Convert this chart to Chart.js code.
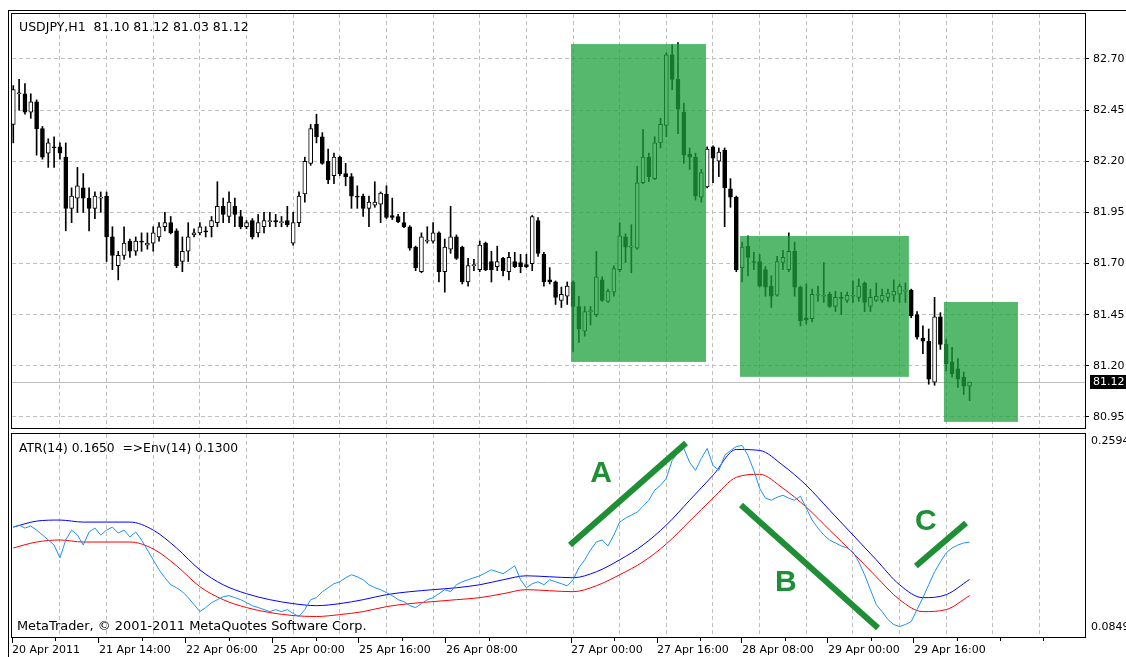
<!DOCTYPE html>
<html>
<head>
<meta charset="utf-8">
<title>USDJPY,H1</title>
<script src="https://cdn.jsdelivr.net/npm/chart.js@4.4.1/dist/chart.umd.min.js"></script>
<style>
  html, body { margin:0; padding:0; background:#fff; }
  #stage { position:relative; width:1126px; height:657px; overflow:hidden; background:#fff; }
  #stage canvas { position:absolute; left:0; }
  #priceCanvas { top:0; }
  #atrCanvas { top:431px; }
  .txt { position:absolute; font-family:"DejaVu Sans", sans-serif; line-height:15px; color:#000; white-space:pre; }
</style>
</head>
<body>
<div id="stage">
  <canvas id="priceCanvas" width="1126" height="431"></canvas>
  <canvas id="atrCanvas" width="1126" height="226"></canvas>
  <div class="txt" id="priceHeader" style="left:19px;top:19px;font-size:12.5px;"></div>
  <div class="txt" id="atrHeader" style="left:19px;top:441px;font-size:12.3px;"></div>
  <div class="txt" id="copyright" style="left:17px;top:618px;font-size:12.9px;">MetaTrader, © 2001-2011 MetaQuotes Software Corp.</div>
</div>
<script>
// ---- hourly USDJPY bars, 20 Apr 2011 .. 29 Apr 2011 ----
const opens = [
  82.38,82.53,82.53,82.44,82.49,82.36,82.24,82.27,82.27,82.22,
  81.97,82.02,82.07,82.02,81.97,82.02,82.03,81.83,81.69,81.74,
  81.81,81.76,81.81,81.79,81.80,81.83,81.88,81.90,81.86,81.71,
  81.76,81.84,81.85,81.86,81.88,81.90,81.98,81.93,81.98,81.93,
  81.88,81.91,81.85,81.88,81.905,81.91,81.90,81.91,81.80,81.90,
  82.04,82.19,82.38,82.32,82.20,82.13,82.22,82.14,82.125,82.03,
  82.03,81.97,81.985,81.99,82.04,81.935,81.93,81.90,81.88,81.78,
  81.66,81.81,81.81,81.85,81.66,81.77,81.83,81.78,81.61,81.69,
  81.67,81.80,81.71,81.685,81.725,81.66,81.71,81.705,81.695,81.70,
  81.91,81.745,81.62,81.61,81.52,81.54,81.61,81.49,81.37,81.465,
  81.45,81.62,81.515,81.56,81.67,81.83,81.78,81.775,82.095,82.22,
  82.115,82.29,82.375,82.72,82.60,82.44,82.235,82.22,82.025,82.075,
  82.27,82.20,82.255,82.065,82.025,81.68,81.785,81.71,81.71,81.67,
  81.59,81.545,81.705,81.67,81.76,81.585,81.435,81.43,81.545,81.54,
  81.55,81.49,81.535,81.52,81.54,81.535,81.605,81.49,81.52,81.52,
  81.535,81.545,81.55,81.565,81.57,81.45,81.335,81.32,81.12,81.44,
  81.305,81.22,81.185,81.145,81.10
];
const highs = [
  82.57,82.60,82.58,82.53,82.50,82.37,82.31,82.32,82.29,82.29,
  82.07,82.17,82.14,82.07,82.05,82.05,82.05,81.88,81.76,81.88,
  81.82,81.83,81.85,81.85,81.88,81.90,81.95,81.93,81.87,81.83,
  81.90,81.87,81.90,81.88,81.93,82.10,82.02,82.05,82.02,81.96,
  81.91,81.92,81.94,81.95,81.95,81.94,81.93,81.98,81.95,82.05,
  82.22,82.38,82.43,82.34,82.26,82.24,82.225,82.19,82.14,82.08,
  82.04,82.03,82.10,82.05,82.08,82.02,81.94,81.95,81.885,81.785,
  81.85,81.88,81.90,81.855,81.82,81.98,81.84,81.785,81.725,81.72,
  81.81,81.805,81.76,81.785,81.73,81.755,81.755,81.745,81.745,81.935,
  81.925,81.755,81.68,81.615,81.585,81.61,81.615,81.54,81.49,81.49,
  81.76,81.635,81.575,81.69,81.90,81.845,81.89,82.175,82.355,82.24,
  82.32,82.41,82.73,82.77,82.78,82.485,82.265,82.24,82.16,82.27,
  82.275,82.265,82.265,82.115,82.03,81.805,81.835,81.755,81.745,81.685,
  81.64,81.735,81.765,81.85,81.805,81.59,81.60,81.575,81.59,81.705,
  81.56,81.565,81.56,81.56,81.615,81.625,81.61,81.575,81.605,81.575,
  81.575,81.62,81.60,81.605,81.575,81.465,81.395,81.38,81.535,81.46,
  81.33,81.29,81.235,81.17,81.12
];
const lows = [
  82.29,82.45,82.43,82.41,82.23,82.21,82.17,82.17,82.21,81.86,
  81.90,81.95,81.95,81.86,81.92,81.95,81.71,81.67,81.62,81.72,
  81.73,81.74,81.76,81.77,81.76,81.81,81.86,81.845,81.68,81.66,
  81.71,81.83,81.84,81.83,81.83,81.88,81.90,81.90,81.88,81.87,
  81.87,81.82,81.83,81.85,81.88,81.88,81.88,81.88,81.79,81.88,
  82.00,82.18,82.29,82.185,82.09,82.09,82.13,82.08,81.97,81.97,
  81.93,81.88,81.975,81.90,81.92,81.915,81.90,81.875,81.765,81.665,
  81.655,81.80,81.80,81.61,81.56,81.75,81.72,81.60,81.59,81.665,
  81.66,81.665,81.61,81.665,81.64,81.62,81.68,81.655,81.68,81.665,
  81.735,81.59,81.60,81.50,81.485,81.50,81.27,81.315,81.345,81.40,
  81.44,81.515,81.51,81.54,81.66,81.705,81.655,81.77,82.09,82.10,
  82.11,82.265,82.32,82.55,82.335,82.19,82.16,82.01,82.00,82.07,
  82.095,82.125,81.88,81.975,81.66,81.61,81.64,81.67,81.585,81.54,
  81.485,81.54,81.67,81.66,81.54,81.395,81.405,81.415,81.515,81.51,
  81.485,81.465,81.45,81.51,81.51,81.515,81.465,81.465,81.515,81.51,
  81.515,81.515,81.51,81.51,81.435,81.33,81.26,81.11,81.105,81.28,
  81.175,81.145,81.095,81.06,81.03
];
const closes = [
  82.55,82.535,82.44,82.49,82.36,82.22,82.29,82.265,82.24,81.97,
  82.03,82.08,82.02,81.97,82.03,82.025,81.83,81.74,81.74,81.80,
  81.76,81.81,81.805,81.80,81.85,81.88,81.90,81.85,81.69,81.76,
  81.83,81.85,81.88,81.855,81.91,81.98,81.94,82.00,81.94,81.88,
  81.90,81.83,81.90,81.91,81.91,81.905,81.905,81.89,81.90,82.03,
  82.20,82.36,82.32,82.19,82.11,82.22,82.14,82.125,82.03,82.025,
  81.97,82.00,82.00,82.045,81.925,81.925,81.905,81.88,81.775,81.68,
  81.83,81.815,81.85,81.66,81.78,81.83,81.725,81.61,81.69,81.695,
  81.79,81.67,81.67,81.71,81.665,81.73,81.685,81.685,81.685,81.93,
  81.75,81.61,81.61,81.535,81.55,81.59,81.49,81.38,81.465,81.47,
  81.635,81.52,81.565,81.675,81.835,81.78,81.785,82.095,82.22,82.125,
  82.29,82.38,82.72,82.60,82.455,82.23,82.22,82.03,82.145,82.26,
  82.215,82.245,82.07,82.025,81.67,81.78,81.73,81.705,81.59,81.585,
  81.54,81.71,81.73,81.76,81.585,81.42,81.425,81.55,81.55,81.545,
  81.49,81.535,81.53,81.545,81.545,81.59,81.51,81.535,81.54,81.545,
  81.555,81.565,81.59,81.57,81.445,81.34,81.32,81.135,81.44,81.305,
  81.21,81.16,81.135,81.10,81.12
];

// ---- ATR(14) per bar and its Envelopes(14) bands ----
const atr = [
  0.1791,0.1810,0.1782,0.1801,0.1763,0.1717,0.1670,0.1623,0.1502,0.1670,
  0.1763,0.1717,0.1623,0.1745,0.1782,0.1717,0.1763,0.1791,0.1735,0.1763,
  0.1698,0.1745,0.1670,0.1577,0.1484,0.1390,0.1316,0.1250,0.1222,0.1185,
  0.1129,0.1064,0.0998,0.1036,0.1082,0.1110,0.1138,0.1148,0.1129,0.1110,
  0.1082,0.1054,0.1036,0.1017,0.0998,0.1017,0.0998,0.1017,0.0980,0.0952,
  0.1017,0.1110,0.1129,0.1185,0.1222,0.1260,0.1278,0.1316,0.1344,0.1325,
  0.1297,0.1250,0.1222,0.1204,0.1176,0.1148,0.1110,0.1092,0.1054,0.1036,
  0.1073,0.1110,0.1129,0.1166,0.1204,0.1185,0.1250,0.1278,0.1297,0.1316,
  0.1334,0.1362,0.1390,0.1372,0.1353,0.1390,0.1428,0.1297,0.1222,0.1260,
  0.1278,0.1250,0.1297,0.1278,0.1260,0.1241,0.1297,0.1409,0.1484,0.1577,
  0.1651,0.1670,0.1614,0.1717,0.1838,0.1875,0.1903,0.1931,0.1987,0.2043,
  0.2137,0.2183,0.2249,0.2417,0.2491,0.2529,0.2398,0.2323,0.2435,0.2529,
  0.2370,0.2323,0.2463,0.2510,0.2547,0.2557,0.2463,0.2323,0.2155,0.2062,
  0.2043,0.2071,0.2090,0.2062,0.2043,0.2081,0.1969,0.1857,0.1782,0.1717,
  0.1670,0.1642,0.1614,0.1595,0.1558,0.1465,0.1344,0.1204,0.1064,0.0998,
  0.0924,0.0877,0.0858,0.0877,0.0905,0.1017,0.1129,0.1250,0.1372,0.1465,
  0.1549,0.1595,0.1623,0.1642,0.1650
];
const envBars = [0,4,8,12,16,20,24,28,32,36,40,44,48,52,56,60,64,68,72,76,80,
  84,88,92,96,100,104,108,112,116,120,124,128,132,136,140,144,148,152,156,160,164];
const envUpper = [0.1791,0.1847,0.1857,0.1838,0.1838,0.1838,0.1763,0.1595,0.1390,0.1250,
  0.1166,0.1110,0.1073,0.1054,0.1073,0.1110,0.1157,0.1185,0.1204,0.1222,0.1250,
  0.1297,0.1334,0.1325,0.1316,0.1372,0.1484,0.1623,0.1810,0.2043,0.2277,0.2519,
  0.2510,0.2370,0.2183,0.1950,0.1717,0.1484,0.1250,0.1129,0.1157,0.1300];
const envLower = [0.1595,0.1651,0.1670,0.1651,0.1651,0.1651,0.1586,0.1428,0.1232,0.1110,
  0.1036,0.0989,0.0961,0.0952,0.0970,0.0998,0.1045,0.1073,0.1092,0.1110,0.1129,
  0.1166,0.1204,0.1194,0.1185,0.1241,0.1344,0.1465,0.1633,0.1847,0.2062,0.2258,
  0.2286,0.2155,0.1978,0.1763,0.1549,0.1325,0.1110,0.0998,0.1017,0.1148];

// ---- axis ticks ----
const priceTicks = [80.95, 81.20, 81.45, 81.70, 81.95, 82.20, 82.45, 82.70];
const atrTicks = [0.0849, 0.2594];
const timeLabels = ['20 Apr 2011','21 Apr 14:00','22 Apr 06:00','25 Apr 00:00','25 Apr 16:00',
  '26 Apr 08:00','27 Apr 00:00','27 Apr 16:00','28 Apr 08:00','29 Apr 00:00','29 Apr 16:00'];
const timeLabelBars = [-0.22, 14.70, 29.62, 44.54, 59.29, 74.21, 95.65, 110.40, 124.97, 139.72, 154.47];
const minorTickBars = [7.24, 22.16, 37.08, 51.92, 66.75, 81.58, 103.02, 117.69, 132.35, 147.09, 161.85, 169.22, 176.59];
const gridBars = [8,16,24,32,40,48,56,64,72,80,88,96,104,112,120,128,136,144,152,160,168,176];

// ---- highlighted price zones (bar range, price range) ----
const zoneStart = [95.65, 124.63, 159.6];
const zoneEnd   = [118.8, 153.6, 172.3];
const zoneHigh  = [82.773, 81.835, 81.512];
const zoneLow   = [81.219, 81.146, 80.926];

// ---- trend strokes on the ATR pane: [bar, value] ends and letter anchors ----
const trendNames = ['A', 'B', 'C'];
const trendFrom = [[95.48, 0.1623], [124.8, 0.1998], [154.8, 0.1426]];
const trendTo   = [[115.37, 0.2580], [148.3, 0.0844], [163.4, 0.1829]];
const trendLabelAt = [[100.8, 0.2289], [132.5, 0.1267], [156.5, 0.1839]];

const X_MIN = -0.22, X_MAX = 183.8;
const GRID = '#c0c0c0';
const DASH = [4, 3];
const MARK_GREEN = '#1f8f36';
const last = closes.length - 1;
const idx = closes.map((_, i) => i);

Chart.defaults.font.family = '"DejaVu Sans", sans-serif';
Chart.defaults.font.size = 11;
Chart.defaults.color = '#000';

const f2 = v => v.toFixed(2);
document.getElementById('priceHeader').textContent =
  'USDJPY,H1  ' + [opens[last], highs[last], lows[last], closes[last]].map(f2).join(' ');
document.getElementById('atrHeader').textContent =
  'ATR(14) ' + atr[last].toFixed(4) + '  =>Env(14) ' + envUpper[envUpper.length - 1].toFixed(4);

// Panel frames plus the outer window edge
const framePlugin = {
  id: 'frame',
  afterDraw(chart, args, opts) {
    const { ctx, chartArea: a, width, height } = chart;
    ctx.save();
    ctx.strokeStyle = '#000';
    ctx.lineWidth = 1;
    ctx.strokeRect(a.left - 0.5, a.top - 0.5, a.right - a.left + 1, a.bottom - a.top + 1);
    ctx.beginPath();
    ctx.moveTo(8.5, opts.outerTop != null ? opts.outerTop : 0);
    ctx.lineTo(8.5, height);
    if (opts.outerTop != null) {
      ctx.moveTo(8, opts.outerTop + 0.5);
      ctx.lineTo(width, opts.outerTop + 0.5);
    }
    ctx.stroke();
    ctx.restore();
  }
};

// Bid line at the last close and its marker on the price scale
const bidPlugin = {
  id: 'bid',
  beforeDatasetsDraw(chart) {
    const { ctx, chartArea: a, scales: { y } } = chart;
    const py = Math.round(y.getPixelForValue(closes[last])) + 0.5;
    ctx.save();
    ctx.strokeStyle = GRID;
    ctx.lineWidth = 1;
    ctx.beginPath();
    ctx.moveTo(a.left, py);
    ctx.lineTo(a.right, py);
    ctx.stroke();
    ctx.restore();
  },
  afterDraw(chart) {
    const { ctx, chartArea: a, scales: { y } } = chart;
    const py = Math.round(y.getPixelForValue(closes[last]));
    ctx.save();
    ctx.fillStyle = '#000';
    ctx.fillRect(a.right + 5, py - 7, chart.width - a.right - 5, 14);
    ctx.fillStyle = '#fff';
    ctx.font = '11px "DejaVu Sans", sans-serif';
    ctx.textBaseline = 'middle';
    ctx.fillText(f2(closes[last]), a.right + 8, py + 0.5);
    ctx.restore();
  }
};

// Translucent green boxes over the candles
const zonesPlugin = {
  id: 'zones',
  afterDatasetsDraw(chart) {
    const { ctx, chartArea: a, scales: { x, y } } = chart;
    ctx.save();
    ctx.beginPath();
    ctx.rect(a.left, a.top, a.right - a.left, a.bottom - a.top);
    ctx.clip();
    ctx.fillStyle = 'rgba(30,160,60,0.75)';
    zoneStart.forEach((s, k) => {
      const x0 = x.getPixelForValue(s), x1 = x.getPixelForValue(zoneEnd[k]);
      const y0 = y.getPixelForValue(zoneHigh[k]), y1 = y.getPixelForValue(zoneLow[k]);
      ctx.fillRect(x0, y0, x1 - x0, y1 - y0);
    });
    ctx.restore();
  }
};

// Short unlabeled ticks between the time labels
const minorTickPlugin = {
  id: 'minorTicks',
  afterDraw(chart) {
    const { ctx, chartArea: a, scales: { x } } = chart;
    ctx.save();
    ctx.strokeStyle = '#000';
    ctx.lineWidth = 1;
    ctx.beginPath();
    minorTickBars.forEach(v => {
      const px = Math.round(x.getPixelForValue(v)) + 0.5;
      ctx.moveTo(px, a.bottom);
      ctx.lineTo(px, a.bottom + 4);
    });
    ctx.stroke();
    ctx.restore();
  }
};

// Trend strokes A, B, C drawn over the ATR pane
const trendPlugin = {
  id: 'trends',
  afterDatasetsDraw(chart) {
    const { ctx, scales: { x, y } } = chart;
    ctx.save();
    ctx.strokeStyle = MARK_GREEN;
    ctx.fillStyle = MARK_GREEN;
    ctx.lineWidth = 6;
    ctx.lineCap = 'butt';
    trendFrom.forEach((p, k) => {
      const q = trendTo[k];
      ctx.beginPath();
      ctx.moveTo(x.getPixelForValue(p[0]), y.getPixelForValue(p[1]));
      ctx.lineTo(x.getPixelForValue(q[0]), y.getPixelForValue(q[1]));
      ctx.stroke();
    });
    ctx.font = 'bold 30px "Liberation Sans", Arial, sans-serif';
    ctx.textAlign = 'center';
    ctx.textBaseline = 'middle';
    trendNames.forEach((t, k) => {
      const p = trendLabelAt[k];
      ctx.fillText(t, x.getPixelForValue(p[0]), y.getPixelForValue(p[1]));
    });
    ctx.restore();
  }
};

// Fixed-size value axis on the right, without extra label overhang padding
const fixRightAxis = s => { s.width = 41; s.paddingTop = 0; s.paddingBottom = 0; };

const gridAxis = (extra) => Object.assign({
  type: 'linear', min: X_MIN, max: X_MAX, offset: false,
  grid: { color: GRID, drawTicks: false, offset: false },
  border: { display: false, dash: DASH },
  ticks: { display: false },
  afterBuildTicks: s => { s.ticks = gridBars.map(v => ({ value: v })); },
  afterFit: s => { s.height = 0; s.paddingLeft = 0; s.paddingRight = 0; }
}, extra);

// ---- price pane ----
new Chart(document.getElementById('priceCanvas'), {
  type: 'bar',
  data: {
    datasets: [
      {
        label: 'High-Low',
        data: idx.map(i => ({ x: i, y: [lows[i], highs[i]] })),
        backgroundColor: '#000',
        barThickness: 1,
        grouped: false,
        order: 2
      },
      {
        label: 'Open-Close',
        data: idx.map(i => ({ x: i, y: [opens[i], closes[i]] })),
        backgroundColor: c => closes[c.dataIndex] >= opens[c.dataIndex] ? '#fff' : '#000',
        borderColor: '#000',
        borderWidth: 1,
        borderSkipped: false,
        barThickness: 4,
        minBarLength: 1,
        grouped: false,
        order: 1
      }
    ]
  },
  options: {
    responsive: false,
    animation: false,
    events: [],
    layout: { padding: { left: 12, top: 14, right: 0, bottom: 3 } },
    plugins: { legend: { display: false }, tooltip: { enabled: false }, frame: { outerTop: 10 } },
    scales: {
      x: gridAxis({ position: 'bottom' }),
      y: {
        type: 'linear', position: 'right', min: 80.896, max: 82.92, beginAtZero: false,
        grid: { color: GRID, tickColor: '#000', tickLength: 4, tickBorderDash: [] },
        border: { display: false, dash: DASH },
        ticks: { padding: 4, autoSkip: false, callback: v => Number(v).toFixed(2) },
        afterBuildTicks: s => { s.ticks = priceTicks.map(v => ({ value: v })); },
        afterFit: fixRightAxis
      }
    }
  },
  plugins: [framePlugin, bidPlugin, zonesPlugin]
});

// ---- ATR pane ----
new Chart(document.getElementById('atrCanvas'), {
  type: 'line',
  data: {
    datasets: [
      {
        label: 'ATR(14)',
        data: idx.map(i => ({ x: i, y: atr[i] })),
        borderColor: '#1e90ff', borderWidth: 1, pointRadius: 0, tension: 0,
        xAxisID: 'x', yAxisID: 'y'
      },
      {
        label: 'Env(14) upper',
        data: envBars.map((b, k) => ({ x: b, y: envUpper[k] })),
        borderColor: '#0000ff', borderWidth: 1, pointRadius: 0, cubicInterpolationMode: 'monotone',
        xAxisID: 'x', yAxisID: 'y'
      },
      {
        label: 'Env(14) lower',
        data: envBars.map((b, k) => ({ x: b, y: envLower[k] })),
        borderColor: '#ff0000', borderWidth: 1, pointRadius: 0, cubicInterpolationMode: 'monotone',
        xAxisID: 'x', yAxisID: 'y'
      }
    ]
  },
  options: {
    responsive: false,
    animation: false,
    events: [],
    layout: { padding: { left: 12, top: 3, right: 0, bottom: 0 } },
    plugins: { legend: { display: false }, tooltip: { enabled: false }, frame: {} },
    scales: {
      x: {
        type: 'linear', position: 'bottom', min: X_MIN, max: X_MAX, offset: false,
        grid: { drawOnChartArea: false, tickColor: '#000', tickLength: 6, offset: false },
        border: { display: false },
        ticks: { autoSkip: false, maxRotation: 0, minRotation: 0, align: 'start', padding: 1,
                 callback: (v, i) => timeLabels[i] },
        afterBuildTicks: s => { s.ticks = timeLabelBars.map(v => ({ value: v })); },
        afterFit: s => { s.height = 20; s.paddingLeft = 0; s.paddingRight = 0; }
      },
      xg: gridAxis({ position: 'top' }),
      y: {
        type: 'linear', position: 'right', min: 0.07599, max: 0.26644, beginAtZero: false,
        grid: { drawOnChartArea: false, drawTicks: false },
        border: { display: false },
        ticks: { padding: 6, autoSkip: false, callback: v => Number(v).toFixed(4) },
        afterBuildTicks: s => { s.ticks = atrTicks.map(v => ({ value: v })); },
        afterFit: fixRightAxis
      }
    }
  },
  plugins: [framePlugin, minorTickPlugin, trendPlugin]
});
</script>
</body>
</html>
